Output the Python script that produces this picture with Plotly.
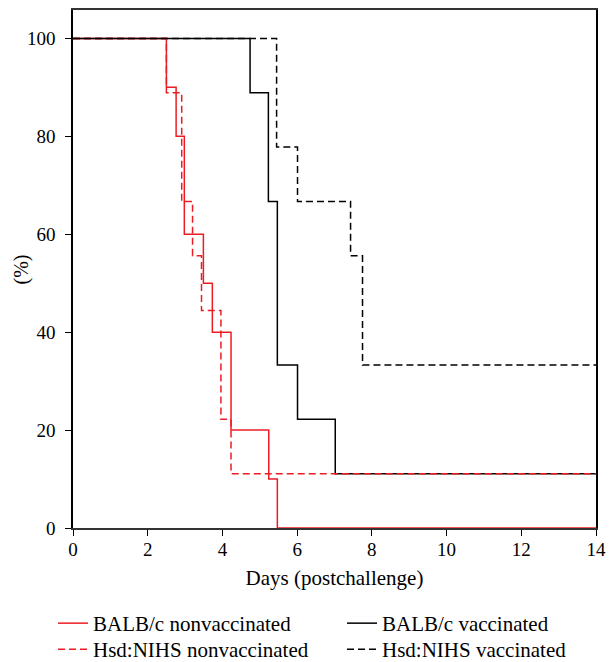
import plotly.graph_objects as go

# Data (days post-challenge vs survival %)
days_balbc_nv = [0, 2.5, 2.76, 2.98, 3.49, 3.73, 4.23, 5.24, 5.47, 14]
surv_balbc_nv = [100, 90, 80, 60, 50, 40, 20, 10, 0, 0]

days_hsd_nv = [0, 2.5, 2.91, 3.2, 3.44, 3.96, 4.23, 14]
surv_hsd_nv = [100, 88.9, 66.7, 55.6, 44.4, 22.2, 11.1, 11.1]

days_balbc_v = [0, 4.74, 5.23, 5.47, 6.01, 7.02, 14]
surv_balbc_v = [100, 88.9, 66.7, 33.3, 22.2, 11.1, 11.1]

days_hsd_v = [0, 5.45, 6.01, 7.43, 7.75, 14]
surv_hsd_v = [100, 77.8, 66.7, 55.6, 33.3, 33.3]

x_ticks = [0, 2, 4, 6, 8, 10, 12, 14]
y_ticks = [0, 20, 40, 60, 80, 100]

RED = "#ed1c24"
BLACK = "#000000"
FONT = "Liberation Serif"

fig = go.Figure()
fig.add_trace(go.Scatter(x=days_balbc_nv, y=surv_balbc_nv, mode="lines", line_shape="hv",
                         name="BALB/c nonvaccinated", legend="legend", cliponaxis=False,
                         line=dict(color=RED, width=1.5)))
fig.add_trace(go.Scatter(x=days_balbc_v, y=surv_balbc_v, mode="lines", line_shape="hv",
                         name="BALB/c vaccinated", legend="legend2", cliponaxis=False,
                         line=dict(color=BLACK, width=1.5)))
fig.add_trace(go.Scatter(x=days_hsd_nv, y=surv_hsd_nv, mode="lines", line_shape="hv",
                         name="Hsd:NIHS nonvaccinated", legend="legend3", cliponaxis=False,
                         line=dict(color=RED, width=1.5, dash="7px,4px")))
fig.add_trace(go.Scatter(x=days_hsd_v, y=surv_hsd_v, mode="lines", line_shape="hv",
                         name="Hsd:NIHS vaccinated", legend="legend4", cliponaxis=False,
                         line=dict(color=BLACK, width=1.5, dash="7px,4px")))

leg_common = dict(orientation="v", xref="container", yref="container",
                  xanchor="left", yanchor="top", tracegroupgap=0,
                  font=dict(family=FONT, size=21, color="black"),
                  bgcolor="rgba(0,0,0,0)")
col1_x, col2_x = 53 / 611, 342 / 611
row1_y, row2_y = 1 - 603 / 662, 1 - 629 / 662

fig.update_layout(
    width=611, height=662,
    margin=dict(l=73, r=15, t=10, b=134, autoexpand=False),
    paper_bgcolor="white", plot_bgcolor="white",
    font=dict(family=FONT, size=19, color="black"),
    showlegend=True,
    legend=dict(x=col1_x, y=row1_y, **leg_common),
    legend2=dict(x=col2_x, y=row1_y, **leg_common),
    legend3=dict(x=col1_x, y=row2_y, **leg_common),
    legend4=dict(x=col2_x, y=row2_y, **leg_common),
    xaxis=dict(range=[0, 14], tickvals=x_ticks, ticks="outside", ticklen=6,
               tickwidth=1.2, tickcolor="black", showline=True, linecolor="#333333",
               linewidth=1.5, mirror=True, showgrid=False, zeroline=False,
               automargin=True, ticklabelstandoff=-3, layer="below traces",
               tickfont=dict(family=FONT, size=19),
               title=dict(text="Days (postchallenge)", font=dict(family=FONT, size=21), standoff=12)),
    yaxis=dict(range=[0, 105.8], tickvals=y_ticks, ticks="outside", ticklen=6,
               tickwidth=1.2, tickcolor="black", showline=True, linecolor="black",
               linewidth=1.5, mirror=True, showgrid=False, zeroline=False,
               automargin=True, ticklabelstandoff=6, layer="below traces",
               tickfont=dict(family=FONT, size=19)),
    annotations=[dict(text="(%)", textangle=-90, xref="paper", yref="paper",
                      x=-53 / 538, y=0.5, xanchor="center", yanchor="middle",
                      showarrow=False, font=dict(family=FONT, size=20, color="black"))],
)

fig.write_html("out.html", post_script="document.body.style.margin='0';",
               config={"displayModeBar": False})
